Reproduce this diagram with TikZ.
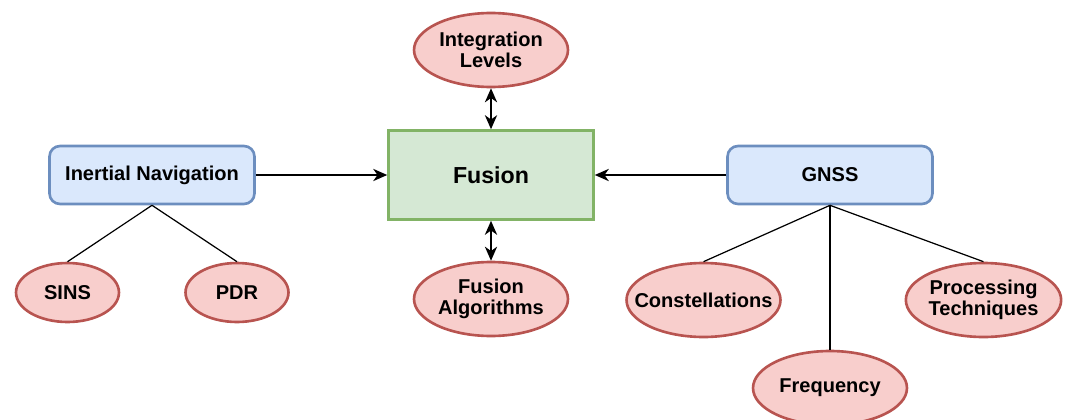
\documentclass[tikz,border=0pt]{standalone}
\usepackage{fontspec}
\setmainfont{Liberation Sans}
\usetikzlibrary{shapes.geometric,arrows.meta}
\definecolor{bluefill}{HTML}{DAE8FC}
\definecolor{bluedraw}{HTML}{6C8EBF}
\definecolor{greenfill}{HTML}{D5E8D4}
\definecolor{greendraw}{HTML}{82B366}
\definecolor{redfill}{HTML}{F8CECC}
\definecolor{reddraw}{HTML}{B85450}
\begin{document}
\begin{tikzpicture}[x=0.02cm, y=-0.02cm,
    every node/.style={font=\fontsize{11.4}{12}\selectfont\bfseries, align=center, inner sep=0pt},
    source/.style={draw=bluedraw, fill=bluefill, line width=1.5pt, rounded corners=6pt, minimum width=4.1cm, minimum height=1.16cm},
    core/.style={draw=greendraw, fill=greenfill, line width=1.5pt, minimum width=4.1cm, minimum height=1.78cm},
    topic/.style={ellipse, draw=reddraw, fill=redfill, line width=1.5pt, minimum width=3.08cm, minimum height=1.48cm},
    small/.style={topic, minimum width=2.06cm, minimum height=1.18cm},
    link/.style={line width=0.7pt},
    >={Stealth[length=8pt, width=7pt, inset=2.5pt]}]
    \useasboundingbox (0,0) rectangle (1067,419);

    % Main blocks
    \node[source] (ins) at (152,175) {Inertial Navigation};
    \node[core, font=\fontsize{13.2}{14}\selectfont\bfseries] (fusion) at (491,175) {Fusion};
    \node[source] (gnss) at (830,175) {GNSS};

    % Fusion topics
    \node[topic] (levels) at (491,50) {Integration\\Levels};
    \node[topic] (algos) at (491,299) {Fusion\\Algorithms};

    % Inertial branches
    \node[small] (sins) at (67.5,292.5) {SINS};
    \node[small] (pdr) at (237,292.5) {PDR};

    % GNSS branches
    \node[topic, inner xsep=-10pt] (const) at (703.5,300) {Constellations};
    \node[topic] (proc) at (983.5,300) {Processing\\Techniques};
    \node[topic] (freq) at (830,388) {Frequency};

    % Arrows into fusion
    \draw[->, link] (ins) -- (fusion);
    \draw[->, link] (gnss) -- (fusion);
    \draw[<->, link] (levels) -- (fusion);
    \draw[<->, link] (fusion) -- (algos);

    % Tree lines
    \draw[link] (ins.south) -- (sins.north);
    \draw[link] (ins.south) -- (pdr.north);
    \draw[link] (gnss.south) -- (const.north);
    \draw[link] (gnss.south) -- (freq.north);
    \draw[link] (gnss.south) -- (proc.north);
\end{tikzpicture}
\end{document}
